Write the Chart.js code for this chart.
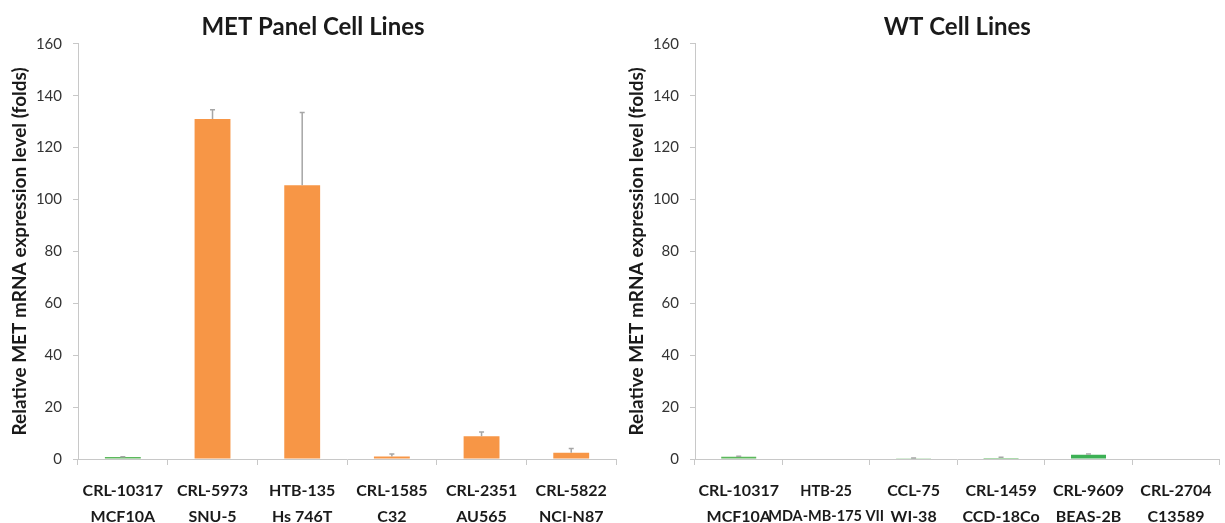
<!DOCTYPE html>
<html>
<head>
<meta charset="utf-8">
<script src="https://cdn.jsdelivr.net/npm/chart.js@4.4.0/dist/chart.umd.min.js"></script>
<style>
  body { margin: 0; background: #fff; width: 1225px; height: 523px; overflow: hidden; position: relative; }
  .box { position: absolute; top: 0; height: 523px; }
  #left { left: 0; width: 620px; }
  #right { left: 617px; width: 608px; }
</style>
</head>
<body>
<div class="box" id="left"><canvas id="metChart"></canvas></div>
<div class="box" id="right"><canvas id="wtChart"></canvas></div>
<script>
// MET panel
const metLabels = [['CRL-10317', 'MCF10A'], ['CRL-5973', 'SNU-5'], ['HTB-135', 'Hs 746T'],
  ['CRL-1585', 'C32'], ['CRL-2351', 'AU565'], ['CRL-5822', 'NCI-N87']];
const metValues = [0.8, 131, 105.5, 1.0, 8.8, 2.4];
const metErrors = [0.1, 3.6, 28, 0.9, 1.6, 1.6];
const metColors = ['#5cb85c', '#f79646', '#f79646', '#f79646', '#f79646', '#f79646'];

// WT
const wtLabels = [['CRL-10317', 'MCF10A'], ['HTB-25', 'MDA-MB-175 VII'], ['CCL-75', 'WI-38'],
  ['CRL-1459', 'CCD-18Co'], ['CRL-9609', 'BEAS-2B'], ['CRL-2704', 'C13589']];
const wtValues = [0.9, 0, 0.1, 0.4, 1.6, 0];
const wtErrors = [0.2, 0, 0.3, 0.3, 0.3, 0];
const wtColors = ['#5cb85c', '#5cb85c', '#5cb85c', '#5cb85c', '#3cb054', '#5cb85c'];

const yTicks = [0, 20, 40, 60, 80, 100, 120, 140, 160];

const FONT = 'Lato, "Open Sans", sans-serif';

/* barras de error */
const errBars = {
  id: 'errBars',
  afterDatasetsDraw(chart, args, opts) {
    const { ctx, scales: { y } } = chart;
    const meta = chart.getDatasetMeta(0);
    const vals = chart.data.datasets[0].data;
    ctx.save();
    ctx.strokeStyle = '#a6a6a6';
    ctx.lineWidth = 1.5;
    meta.data.forEach((bar, i) => {
      const e = opts.err[i];
      if (!e) return;
      const y0 = y.getPixelForValue(vals[i]);
      const y1 = y.getPixelForValue(vals[i] + e);
      ctx.beginPath();
      ctx.moveTo(bar.x, y0);
      ctx.lineTo(bar.x, y1);
      ctx.moveTo(bar.x - 2.5, y1);
      ctx.lineTo(bar.x + 2.5, y1);
      ctx.stroke();
    });
    ctx.restore();
  }
};

function makeChart(id, title, labels, values, errors, colors, fullTitle) {
  return new Chart(document.getElementById(id), {
    type: 'bar',
    data: {
      labels: labels,
      datasets: [{
        data: values,
        backgroundColor: colors,
        barPercentage: 0.4,
        categoryPercentage: 1
      }]
    },
    options: {
      responsive: true,
      maintainAspectRatio: false,
      animation: false,
      layout: { padding: { left: 8, right: 2, top: 0, bottom: 0 } },
      plugins: {
        legend: { display: false },
        tooltip: { enabled: false },
        title: {
          display: true,
          fullSize: fullTitle,
          text: title,
          color: '#1a1a1a',
          font: { family: FONT, size: 24, weight: 'bold' },
          padding: { top: 13, bottom: 2 }
        },
        errBars: { err: errors }
      },
      scales: {
        x: {
          afterFit: (ax) => { ax.height = 64; },
          grid: { display: true, drawOnChartArea: false, tickLength: 6, color: '#c8c8c8', offset: true },
          border: { color: '#c8c8c8' },
          ticks: {
            color: '#1a1a1a',
            maxRotation: 0,
            autoSkip: false,
            padding: 13,
            // etiquetas largas un poco más chicas para que no se pisen
            font: (c) => {
              const lbl = labels[c.index] || [];
              const long = lbl.some(s => s.length > 10);
              return { family: FONT, size: long ? 14.5 : 16, weight: 'bold', lineHeight: long ? 1.77 : 1.6 };
            }
          }
        },
        y: {
          min: 0,
          max: 160,
          afterBuildTicks: (ax) => { ax.ticks = yTicks.map(v => ({ value: v })); },
          afterFit: (ax) => { ax.width = 70; },
          grid: { display: true, drawOnChartArea: false, tickLength: 5, color: '#c8c8c8' },
          border: { color: '#c8c8c8' },
          ticks: {
            color: '#333',
            padding: 11,
            font: { family: FONT, size: 15 }
          },
          title: {
            display: true,
            text: 'Relative MET mRNA expression level (folds)',
            color: '#1a1a1a',
            font: { family: FONT, size: 19, weight: 'bold' },
            padding: { top: 0, bottom: 0 }
          }
        }
      }
    },
    plugins: [errBars]
  });
}

makeChart('metChart', 'MET Panel Cell Lines', metLabels, metValues, metErrors, metColors, true);
makeChart('wtChart', 'WT Cell Lines', wtLabels, wtValues, wtErrors, wtColors, false);
</script>
</body>
</html>
